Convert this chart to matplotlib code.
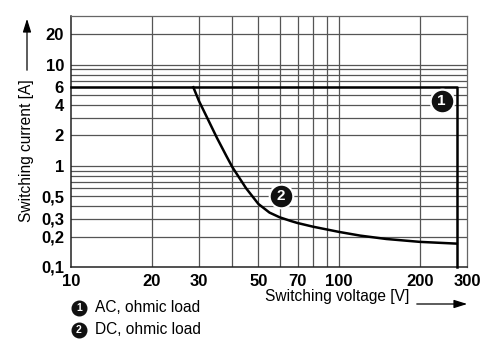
import matplotlib
matplotlib.use('Agg')
import matplotlib.pyplot as plt

plt.rcParams['font.family'] = ['Liberation Sans', 'DejaVu Sans']

# curve 1: AC, ohmic load
ac_v = [10, 275, 275]
ac_i = [6, 6, 0.1]

# curve 2: DC, ohmic load
dc_v = [28.6, 30, 32, 35, 38, 40, 45, 50, 55, 60, 66, 70, 80, 100, 120, 150, 200, 275]
dc_i = [6, 4.4, 3.1, 1.9, 1.25, 0.97, 0.6, 0.42, 0.345, 0.31, 0.285, 0.272, 0.25, 0.222, 0.204, 0.189, 0.177, 0.17]

x_ticks = [10, 20, 30, 50, 70, 100, 200, 300]
x_grid = [20, 30, 40, 50, 60, 70, 80, 90, 100, 200]
y_ticks = [0.1, 0.2, 0.3, 0.5, 1, 2, 4, 6, 10, 20]
y_grid = [0.2, 0.3, 0.4, 0.5, 0.6, 0.7, 0.8, 0.9, 1, 2, 3, 4, 5, 6, 7, 8, 9, 10, 20]

def fmt(v):
    return ('%g' % v).replace('.', ',')

fig = plt.figure(figsize=(5, 3.54), dpi=100)
ax = fig.add_axes([0.142, 0.246, 0.792, 0.709])
ax.set_xscale('log')
ax.set_yscale('log')
ax.set_xlim(10, 300)
ax.set_ylim(0.1, 30.5)

for v in x_grid:
    ax.axvline(v, color='#555555', lw=0.9, zorder=1)
for v in y_grid:
    ax.axhline(v, color='#555555', lw=0.9, zorder=1)

ax.plot(ac_v, ac_i, color='black', lw=1.8, zorder=3, clip_on=False)
ax.plot(dc_v, dc_i, color='black', lw=1.8, zorder=3, solid_joinstyle='round')

ax.set_xticks(x_ticks)
ax.set_xticklabels([fmt(v) for v in x_ticks], fontweight='bold', fontsize=12)
ax.set_xticks([], minor=True)
ax.set_yticks(y_ticks)
ax.set_yticklabels([fmt(v) for v in y_ticks], fontweight='bold', fontsize=12)
ax.set_yticks([], minor=True)
ax.tick_params(length=0, pad=5)

for s in ['top', 'right']:
    ax.spines[s].set_color('#666666')
    ax.spines[s].set_linewidth(0.9)
for s in ['left', 'bottom']:
    ax.spines[s].set_color('#222222')
    ax.spines[s].set_linewidth(1.1)

# numbered markers
for (x, y, n) in [(241, 4.4, '1'), (60.6, 0.50, '2')]:
    ax.plot(x, y, 'o', ms=17, color='#111111', mec='white', mew=1.5, zorder=5)
    ax.text(x, y, n, color='white', fontsize=11, fontweight='bold',
            ha='center', va='center', zorder=6)

# axis labels with arrows
fig.text(27 / 500, 1 - 151 / 354, 'Switching current [A]', rotation=90,
         ha='center', va='center', fontsize=11.2)
ax.annotate('', xy=(27 / 500, 1 - 16 / 354), xytext=(27 / 500, 1 - 73 / 354),
            xycoords='figure fraction',
            arrowprops=dict(arrowstyle='-|>,head_length=0.8,head_width=0.25',
                            color='black', lw=0.9))
fig.text(337 / 500, 1 - 297 / 354, 'Switching voltage [V]',
         ha='center', va='center', fontsize=11.2)
ax.annotate('', xy=(470 / 500, 1 - 304 / 354), xytext=(414 / 500, 1 - 304 / 354),
            xycoords='figure fraction',
            arrowprops=dict(arrowstyle='-|>,head_length=0.8,head_width=0.25',
                            color='black', lw=0.9))

# legend
for (y, n, txt) in [(308, '1', 'AC, ohmic load'), (330, '2', 'DC, ohmic load')]:
    fy = 1 - y / 354
    fig.lines.append(plt.Line2D([79 / 500], [fy], marker='o', ms=10.5,
                                color='#111111', transform=fig.transFigure))
    fig.text(79 / 500, fy, n, color='white', fontsize=7.5, fontweight='bold',
             ha='center', va='center')
    fig.text(95 / 500, fy, txt, ha='left', va='center', fontsize=11.2)

fig.savefig('out.png', dpi=100)
